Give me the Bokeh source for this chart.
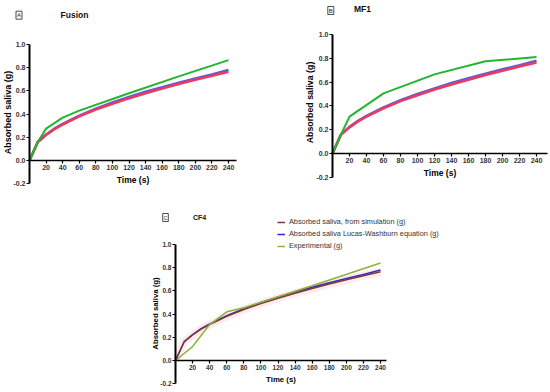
import math
from bokeh.plotting import figure
from bokeh.layouts import column, row
from bokeh.models import Label, FixedTicker, Legend, LegendItem, PrintfTickFormatter
from bokeh.embed import file_html
from bokeh.resources import INLINE

FONT = "Liberation Sans"

# ---------------- data ----------------
t_model = [0, 10, 20, 30, 40, 60, 80, 100, 120, 140, 160, 180, 200, 220, 240]
sim_saliva = [0, 0.16, 0.22, 0.27, 0.31, 0.38, 0.44, 0.49, 0.537, 0.58, 0.62, 0.66, 0.696, 0.731, 0.765]
lw_saliva = [0, 0.16, 0.224, 0.274, 0.316, 0.387, 0.447, 0.50, 0.547, 0.592, 0.632, 0.671, 0.707, 0.742, 0.78]

t_exp_fusion = [0, 10, 20, 40, 60, 120, 180, 240]
exp_fusion = [0, 0.16, 0.275, 0.37, 0.43, 0.58, 0.725, 0.865]

t_exp_mf1 = [0, 10, 20, 60, 120, 180, 240]
exp_mf1 = [0, 0.16, 0.31, 0.505, 0.665, 0.775, 0.81]

t_exp_cf4 = [0, 20, 40, 60, 80, 160, 240]
exp_cf4 = [0, 0.12, 0.31, 0.42, 0.455, 0.645, 0.84]

x_ticks = [20, 40, 60, 80, 100, 120, 140, 160, 180, 200, 220, 240]
y_ticks = [-0.2, 0.0, 0.2, 0.4, 0.6, 0.8, 1.0]

panel_letters = ["A", "B", "C"]
panel_titles = ["Fusion", "MF1", "CF4"]
legend_labels = ["Absorbed saliva, from simulation (g)",
                 "Absorbed saliva Lucas-Washburn equation (g)",
                 "Experimental (g)"]
y_label = "Absorbed saliva (g)"
x_label = "Time (s)"


def make_panel(fig_left, fig_top, w, h, x0, kx, y0, ky, x_bound_end,
               tick_font, xlab_font):
    x_start = (fig_left - x0) / kx
    x_end = (fig_left + w - x0) / kx
    y_end = (y0 - fig_top) / ky
    y_start = (y0 - (fig_top + h)) / ky
    p = figure(width=w, height=h, x_range=(x_start, x_end), y_range=(y_start, y_end),
               output_backend="svg", toolbar_location=None,
               min_border_left=0, min_border_right=0,
               min_border_top=0, min_border_bottom=0)
    p.outline_line_color = None
    p.grid.visible = False
    p.background_fill_color = "white"
    p.border_fill_color = "white"

    yax = p.yaxis[0]
    yax.fixed_location = 0
    yax.ticker = FixedTicker(ticks=y_ticks)
    yax.formatter = PrintfTickFormatter(format="%.1f")
    yax.bounds = (-0.2, 1.0)
    yax.axis_line_width = 2
    yax.axis_line_color = "black"
    yax.major_tick_out = 3
    yax.major_tick_in = 0
    yax.major_tick_line_width = 1.2
    yax.minor_tick_line_color = None
    yax.major_label_standoff = 1
    yax.major_label_text_font = FONT
    yax.major_label_text_font_style = "bold"
    yax.major_label_text_font_size = tick_font
    yax.major_label_text_color = "#333333"

    xax = p.xaxis[0]
    xax.fixed_location = 0
    xax.ticker = FixedTicker(ticks=x_ticks)
    xax.bounds = (0, x_bound_end)
    xax.axis_line_width = 1.6
    xax.axis_line_color = "black"
    xax.major_tick_out = 3
    xax.major_tick_in = 0
    xax.major_tick_line_width = 1.2
    xax.minor_tick_line_color = None
    xax.major_label_standoff = 1
    xax.major_label_text_font = FONT
    xax.major_label_text_font_style = "bold"
    xax.major_label_text_font_size = tick_font
    xax.major_label_text_color = "#333333"
    xax.axis_label = x_label
    xax.axis_label_standoff = 2
    xax.axis_label_text_font = FONT
    xax.axis_label_text_font_style = "bold"
    xax.axis_label_text_font_size = xlab_font
    xax.axis_label_text_color = "black"

    def pos(px, py):
        return (px - x0) / kx, (y0 - py) / ky

    return p, pos


def add_texts(p, pos, letter_xy, letter, letter_size, title_xy, title, title_size,
              ylab_xy, ylab_size):
    lx, ly = pos(*letter_xy)
    p.add_layout(Label(x=lx, y=ly, text=letter, text_font=FONT,
                       text_font_size=letter_size, text_align="center",
                       text_baseline="middle", text_color="#222222",
                       border_line_color="#222222", border_line_width=0.8,
                       padding=1))
    tx, ty = pos(*title_xy)
    p.add_layout(Label(x=tx, y=ty, text=title, text_font=FONT,
                       text_font_size=title_size, text_font_style="bold",
                       text_align="center", text_baseline="middle", text_color="#111111"))
    yx, yy = pos(*ylab_xy)
    p.add_layout(Label(x=yx, y=yy, text=y_label, text_font=FONT, angle=math.pi / 2,
                       text_font_size=ylab_size, text_font_style="bold",
                       text_align="center", text_baseline="middle", text_color="black"))


RED = "#eb3a62"
BLUE = "#5c5cd8"
GREEN = "#22b52e"

# ---------------- Panel A ----------------
pA, posA = make_panel(0, 0, 270, 200, 29, 199 / 240, 160, 116, 250, "7px", "8.5px")
pA.line(t_model, lw_saliva, line_color=BLUE, line_width=2.6)
pA.line(t_model, sim_saliva, line_color=RED, line_width=2.6)
pA.line(t_exp_fusion, exp_fusion, line_color=GREEN, line_width=2)
add_texts(pA, posA, (18.5, 14.7), panel_letters[0], "6px", (74, 14), panel_titles[0], "8.5px",
          (7, 112), "9px")

# ---------------- Panel B ----------------
pB, posB = make_panel(270, 0, 278, 200, 332, 204 / 240, 153, 119, 253, "7px", "8.5px")
pB.line(t_model, lw_saliva, line_color=BLUE, line_width=2.6)
pB.line(t_model, sim_saliva, line_color=RED, line_width=2.6)
pB.line(t_exp_mf1, exp_mf1, line_color=GREEN, line_width=2)
add_texts(pB, posB, (330.3, 10), panel_letters[1], "6px", (362, 8.5), panel_titles[1], "8.5px",
          (309, 102), "8.8px")

# ---------------- Panel C ----------------
pC, posC = make_panel(0, 200, 548, 190, 175, 205 / 240, 360, 116, 247, "6.5px", "7.8px")
pC.line(t_model, sim_saliva, line_color="#ffc4d4", line_width=8, line_alpha=0.35)
r_lw = pC.line(t_model, lw_saliva, line_color="#2b2bd2", line_width=1.5)
r_sim = pC.line(t_model, sim_saliva, line_color="#7a3e28", line_width=1.5)
r_exp = pC.line(t_exp_cf4, exp_cf4, line_color="#8cb33c", line_width=1.5)
add_texts(pC, posC, (165, 217), panel_letters[2], "5px", (199, 217), panel_titles[2], "7px",
          (155, 313), "7.8px")

legend = Legend(items=[LegendItem(label=legend_labels[0], renderers=[r_sim]),
                       LegendItem(label=legend_labels[1], renderers=[r_lw]),
                       LegendItem(label=legend_labels[2], renderers=[r_exp])],
                location=(277, 390 - 250), orientation="vertical",
                glyph_width=8, glyph_height=8, label_height=8, label_standoff=4,
                spacing=3, padding=0, margin=0,
                border_line_color=None, background_fill_alpha=0,
                label_text_font=FONT, label_text_font_size="7.3px",
                label_text_color="#333333")
pC.add_layout(legend)

layout = column(row(pA, pB), pC)
open("out.html", "w").write(file_html(layout, INLINE))
